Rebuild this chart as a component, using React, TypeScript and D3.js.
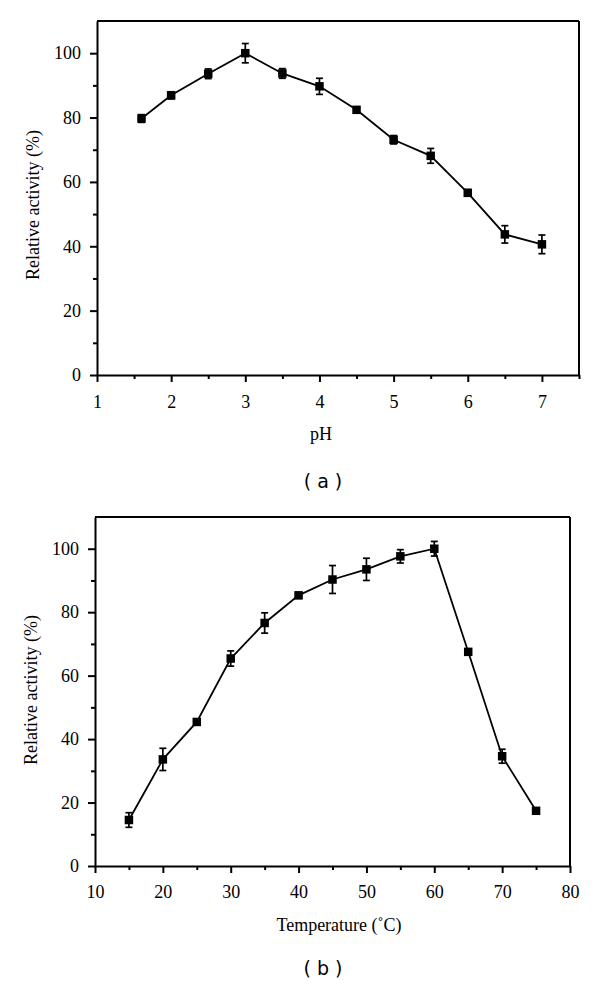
import React, { useEffect, useRef } from "react";
import * as d3 from "d3";

// Panel (a): pH profile
const phValues = [1.6, 2, 2.5, 3, 3.5, 4, 4.5, 5, 5.5, 6, 6.5, 7];
const phActivity = [79.7, 86.9, 93.6, 100, 93.7, 89.7, 82.4, 73.1, 68.1, 56.6, 43.7, 40.6];
const phError = [1.2, 1.1, 1.5, 3.0, 1.5, 2.5, 0.8, 1.3, 2.3, 1.0, 2.7, 2.9];
const phTicks = [1, 2, 3, 4, 5, 6, 7];
const phMinorTicks = [1.5, 2.5, 3.5, 4.5, 5.5, 6.5, 7.5];

// Panel (b): temperature profile
const tempValues = [15, 20, 25, 30, 35, 40, 45, 50, 55, 60, 65, 70, 75];
const tempActivity = [14.5, 33.6, 45.4, 65.4, 76.6, 85.3, 90.3, 93.5, 97.6, 100, 67.5, 34.6, 17.4];
const tempError = [2.3, 3.5, 0.9, 2.4, 3.2, 0.9, 4.4, 3.5, 2.1, 2.3, 0.9, 2.2, 0.9];
const tempTicks = [10, 20, 30, 40, 50, 60, 70, 80];
const tempMinorTicks = [15, 25, 35, 45, 55, 65, 75];

const yTicks = [0, 20, 40, 60, 80, 100];
const yMinorTicks = [10, 30, 50, 70, 90];

const SERIF = "Liberation Serif";
const SANS = "DejaVu Sans";

type PanelProps = {
  xs: number[];
  ys: number[];
  errs: number[];
  xDomain: [number, number];
  xTicks: number[];
  xMinor: number[];
  left: number;
  right: number;
  top: number;
  bottom: number;
  xLabel: string;
  xLabelX: number;
  xLabelY: number;
  caption: string;
  captionX: number;
  captionY: number;
  yLabelX: number;
  yLabelCY: number;
  xPad: number;
};

function Panel(p: PanelProps) {
  const xAxisRef = useRef<SVGGElement>(null);
  const xMinorRef = useRef<SVGGElement>(null);
  const yAxisRef = useRef<SVGGElement>(null);
  const yMinorRef = useRef<SVGGElement>(null);

  const x = d3.scaleLinear().domain(p.xDomain).range([p.left, p.right]);
  const y = d3.scaleLinear().domain([0, 110]).range([p.bottom, p.top]);

  useEffect(() => {
    const style = (g: d3.Selection<SVGGElement, unknown, null, undefined>) => {
      g.attr("font-family", SERIF).attr("font-size", 18);
      g.selectAll("path.domain").attr("stroke", "#000").attr("stroke-width", 2);
      g.selectAll(".tick line").attr("stroke", "#000").attr("stroke-width", 2);
      g.selectAll(".tick text").attr("fill", "#000").attr("font-family", SERIF).attr("font-size", 18);
    };
    const gx = d3.select(xAxisRef.current!);
    gx.call(
      d3
        .axisBottom(x)
        .tickValues(p.xTicks)
        .tickSize(7)
        .tickSizeOuter(0)
        .tickPadding(p.xPad)
        .tickFormat(d3.format("d"))
    );
    style(gx);
    const gxm = d3.select(xMinorRef.current!);
    gxm.call(d3.axisBottom(x).tickValues(p.xMinor).tickSize(4).tickSizeOuter(0).tickFormat(() => ""));
    gxm.select("path.domain").remove();
    style(gxm);

    const gy = d3.select(yAxisRef.current!);
    gy.call(
      d3.axisLeft(y).tickValues(yTicks).tickSize(7).tickSizeOuter(0).tickPadding(9).tickFormat(d3.format("d"))
    );
    style(gy);
    const gym = d3.select(yMinorRef.current!);
    gym.call(d3.axisLeft(y).tickValues(yMinorTicks).tickSize(4).tickSizeOuter(0).tickFormat(() => ""));
    gym.select("path.domain").remove();
    style(gym);
  });

  const pts = p.xs.map((v, i) => [x(v), y(p.ys[i])] as [number, number]);
  const line = d3.line()(pts) || "";
  const ms = 8.5;
  const cap = 3.5;

  return (
    <g>
      <line x1={p.left} x2={p.right} y1={p.top} y2={p.top} stroke="#000" strokeWidth={2} />
      <line x1={p.right} x2={p.right} y1={p.top} y2={p.bottom} stroke="#000" strokeWidth={2} />
      <path d={line} fill="none" stroke="#000" strokeWidth={1.8} />
      {p.xs.map((v, i) => {
        const cx = x(v);
        const y1 = y(p.ys[i] + p.errs[i]);
        const y2 = y(p.ys[i] - p.errs[i]);
        return (
          <g key={i}>
            <line x1={cx} x2={cx} y1={y1} y2={y2} stroke="#000" strokeWidth={1.7} />
            <line x1={cx - cap} x2={cx + cap} y1={y1} y2={y1} stroke="#000" strokeWidth={1.7} />
            <line x1={cx - cap} x2={cx + cap} y1={y2} y2={y2} stroke="#000" strokeWidth={1.7} />
            <rect x={cx - ms / 2} y={y(p.ys[i]) - ms / 2} width={ms} height={ms} fill="#000" />
          </g>
        );
      })}
      <g ref={xAxisRef} transform={`translate(0,${p.bottom})`} />
      <g ref={xMinorRef} transform={`translate(0,${p.bottom})`} />
      <g ref={yAxisRef} transform={`translate(${p.left},0)`} />
      <g ref={yMinorRef} transform={`translate(${p.left},0)`} />
      <text
        transform={`translate(${p.yLabelX},${p.yLabelCY}) rotate(-90)`}
        textAnchor="middle"
        fontFamily={SERIF}
        fontSize={18}
        fill="#000"
      >
        Relative activity (%)
      </text>
      <text x={p.xLabelX} y={p.xLabelY} textAnchor="middle" fontFamily={SERIF} fontSize={18} fill="#000">
        {p.xLabel}
      </text>
      <text x={p.captionX} y={p.captionY} textAnchor="middle" fontFamily={SANS} fontSize={19} fill="#000" xmlSpace="preserve">
        {p.caption}
      </text>
    </g>
  );
}

export default function App() {
  return (
    <svg
      width={600}
      height={985}
      viewBox="0 0 600 985"
      style={{ position: "absolute", left: 0, top: 0, background: "#fff" }}
    >
      <rect x={0} y={0} width={600} height={985} fill="#fff" />
      <Panel
        xs={phValues}
        ys={phActivity}
        errs={phError}
        xDomain={[1, 7.5]}
        xTicks={phTicks}
        xMinor={phMinorTicks}
        left={97}
        right={579}
        top={21}
        bottom={375}
        xLabel="pH"
        xLabelX={321}
        xLabelY={440}
        caption="( a )"
        captionX={323}
        captionY={488}
        yLabelX={39}
        yLabelCY={205}
        xPad={13}
      />
      <Panel
        xs={tempValues}
        ys={tempActivity}
        errs={tempError}
        xDomain={[10, 80]}
        xTicks={tempTicks}
        xMinor={tempMinorTicks}
        left={95}
        right={570}
        top={517}
        bottom={866}
        xLabel="Temperature (˚C)"
        xLabelX={339}
        xLabelY={931}
        caption="( b )"
        captionX={323}
        captionY={975}
        yLabelX={37}
        yLabelCY={690}
        xPad={12}
      />
    </svg>
  );
}
